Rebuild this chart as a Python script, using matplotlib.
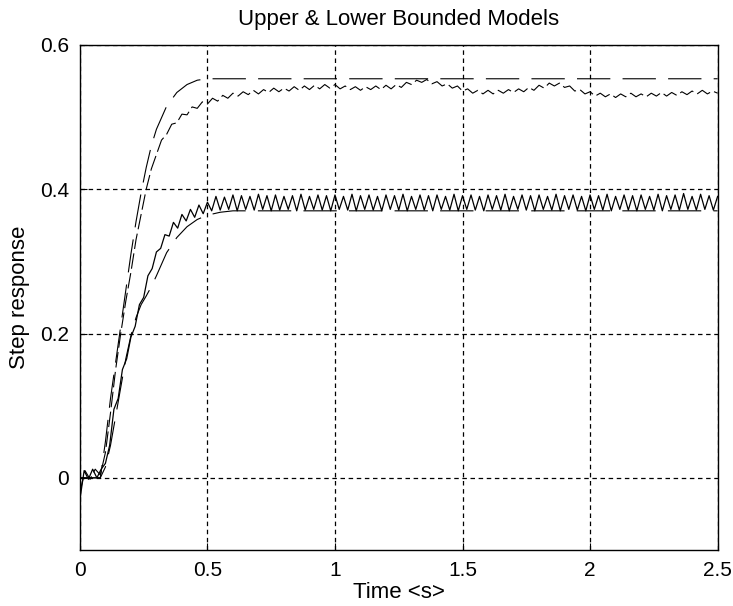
import numpy as np
import matplotlib
matplotlib.use('Agg')
import matplotlib.pyplot as plt

plt.rcParams['font.family'] = ['Liberation Sans', 'DejaVu Sans']

# bounded models (dashed)
t_model = [0, 0.08, 0.10, 0.12, 0.14, 0.16, 0.18, 0.20, 0.22, 0.24, 0.26, 0.28,
           0.30, 0.34, 0.38, 0.42, 0.46, 0.50, 0.55, 0.60, 2.50]
upper_model = [0, 0.0, 0.05, 0.11, 0.16, 0.21, 0.26, 0.31, 0.355, 0.395, 0.43, 0.46,
               0.483, 0.515, 0.534, 0.545, 0.551, 0.553, 0.553, 0.553, 0.553]
lower_model = [0, 0.0, 0.015, 0.045, 0.085, 0.125, 0.165, 0.197, 0.222, 0.24, 0.252, 0.265,
               0.28, 0.312, 0.333, 0.348, 0.358, 0.364, 0.368, 0.370, 0.370]

# measured response of the upper plant, 0.02 s samples
t_upper = np.linspace(0, 2.5, 126)
upper_meas = [
    -0.020, 0.010, -0.002, 0.012, 0.004, 0.035, 0.090, 0.150, 0.200, 0.245,
    0.285, 0.330, 0.365, 0.400, 0.428, 0.448, 0.468, 0.476, 0.490, 0.492,
    0.504, 0.503, 0.514, 0.512, 0.521, 0.518, 0.526, 0.522, 0.530, 0.526,
    0.533, 0.529, 0.535, 0.531, 0.537, 0.532, 0.538, 0.534, 0.540, 0.535,
    0.540, 0.536, 0.542, 0.537, 0.543, 0.538, 0.544, 0.539, 0.545, 0.540,
    0.545, 0.539, 0.543, 0.538, 0.542, 0.537, 0.542, 0.538, 0.543, 0.538,
    0.544, 0.539, 0.545, 0.541, 0.548, 0.545, 0.551, 0.548, 0.552, 0.546,
    0.549, 0.543, 0.546, 0.540, 0.543, 0.536, 0.539, 0.533, 0.537, 0.532,
    0.537, 0.532, 0.537, 0.533, 0.538, 0.534, 0.539, 0.535, 0.541, 0.537,
    0.544, 0.540, 0.547, 0.543, 0.547, 0.541, 0.543, 0.536, 0.538, 0.532,
    0.535, 0.529, 0.533, 0.528, 0.532, 0.527, 0.532, 0.528, 0.533, 0.528,
    0.532, 0.528, 0.533, 0.529, 0.534, 0.529, 0.534, 0.530, 0.535, 0.531,
    0.536, 0.532, 0.537, 0.532, 0.536, 0.533,
]

# measured response of the lower plant, 1/60 s samples
t_lower = np.linspace(0, 2.5, 151)
lower_meas = [
    -0.030, 0.010, -0.002, 0.012, 0.000, 0.012, 0.020, 0.045, 0.095, 0.110,
    0.150, 0.165, 0.195, 0.210, 0.240, 0.250, 0.280, 0.290, 0.313, 0.318,
    0.337, 0.335, 0.354, 0.346, 0.365, 0.356, 0.372, 0.361, 0.378, 0.366,
    0.382, 0.370, 0.390, 0.371, 0.389, 0.372, 0.392, 0.370, 0.391, 0.372,
    0.390, 0.371, 0.393, 0.372, 0.391, 0.370, 0.392, 0.371, 0.390, 0.372,
    0.391, 0.370, 0.393, 0.371, 0.390, 0.372, 0.392, 0.371, 0.391, 0.370,
    0.392, 0.372, 0.390, 0.371, 0.393, 0.370, 0.391, 0.372, 0.392, 0.371,
    0.390, 0.370, 0.392, 0.372, 0.391, 0.371, 0.393, 0.370, 0.390, 0.372,
    0.392, 0.371, 0.391, 0.370, 0.392, 0.372, 0.390, 0.371, 0.393, 0.370,
    0.391, 0.372, 0.392, 0.371, 0.390, 0.370, 0.392, 0.372, 0.391, 0.371,
    0.393, 0.370, 0.390, 0.372, 0.392, 0.371, 0.391, 0.370, 0.392, 0.372,
    0.390, 0.371, 0.393, 0.370, 0.391, 0.372, 0.392, 0.371, 0.390, 0.370,
    0.392, 0.372, 0.391, 0.371, 0.393, 0.370, 0.390, 0.372, 0.392, 0.371,
    0.391, 0.370, 0.392, 0.372, 0.390, 0.371, 0.393, 0.370, 0.391, 0.372,
    0.392, 0.371, 0.394, 0.372, 0.390, 0.371, 0.393, 0.372, 0.391, 0.371,
    0.390,
]

xticks = [0, 0.5, 1, 1.5, 2, 2.5]
yticks = [0, 0.2, 0.4, 0.6]

fig = plt.figure(figsize=(7.33, 6.06), dpi=100)
ax = fig.add_axes([0.109, 0.0924, 0.870, 0.8336])

ax.plot(t_model, upper_model, color='black', lw=0.8, dashes=(30, 11))
ax.plot(t_model, lower_model, color='black', lw=0.8, dashes=(30, 11))
ax.plot(t_upper, upper_meas, color='black', lw=0.8, dashes=(14, 4))
ax.plot(t_lower, lower_meas, color='black', lw=0.9)

ax.set_xlim(0, 2.5)
ax.set_ylim(-0.1, 0.6)
ax.set_xticks(xticks)
ax.set_xticklabels(['0', '0.5', '1', '1.5', '2', '2.5'])
ax.set_yticks(yticks)
ax.set_yticklabels(['0', '0.2', '0.4', '0.6'])
ax.grid(True, color='black', lw=0.9, dashes=(3.6, 2.9))
ax.tick_params(direction='in', length=5, labelsize=15, width=0.8)
ax.tick_params(axis='x', pad=8)
ax.tick_params(axis='y', pad=8)
for s in ax.spines.values():
    s.set_linewidth(1.0)

ax.set_title('Upper & Lower Bounded Models', fontsize=16, pad=14)
ax.set_xlabel('Time <s>', fontsize=16, labelpad=1)
ax.set_ylabel('Step response', fontsize=16, labelpad=7)

fig.savefig('out.png', dpi=100)
